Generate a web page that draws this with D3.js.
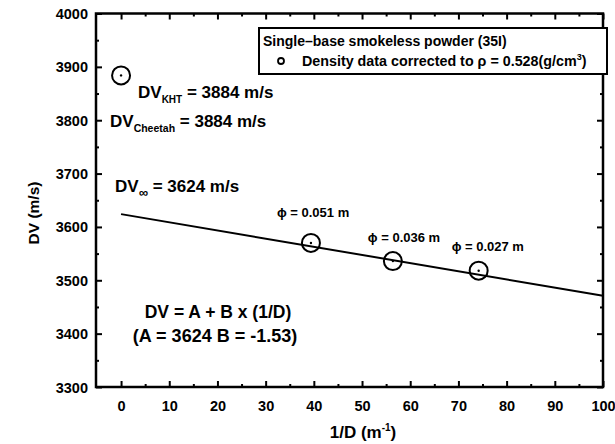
<!DOCTYPE html>
<html lang="en">
<head>
  <meta charset="UTF-8">
  <title></title>
  <script src="https://d3js.org/d3.v7.min.js"></script>
  <style>
    body { margin: 0; background: #fff; }
    text { font-family: "Liberation Sans", Arial, sans-serif; font-weight: bold; fill: #000; }
  </style>
</head>
<body>
  <svg width="615" height="444"></svg>
  <script>
    // measured points (1/D, DV)
    const invD = [0, 39.4, 56.4, 74.2];
    const dv = [3884, 3570, 3536, 3518];
    // fit DV = A + B*(1/D)
    const fitA = 3624, fitB = -1.53;
    const fitX = [0, 100];
    const xTicks = [0, 10, 20, 30, 40, 50, 60, 70, 80, 90, 100];
    const yTicks = [3300, 3400, 3500, 3600, 3700, 3800, 3900, 4000];
    const phiLabels = ["0.051", "0.036", "0.027"];

    const svg = d3.select("svg");
    const margin = {top: 13.5, right: 12, bottom: 57, left: 96};
    const width = 615, height = 444;
    const innerWidth = width - margin.left - margin.right;
    const innerHeight = height - margin.top - margin.bottom;

    // scales in page coordinates
    const x = d3.scaleLinear().domain([-5.2, 100]).range([margin.left, width - margin.right]);
    const y = d3.scaleLinear().domain([3300, 4000]).range([height - margin.bottom, margin.top]);

    const xMinor = d3.range(5, 100, 10);
    const yMinor = d3.range(3350, 4000, 100);
    const fmt = d3.format("d");
    const bottom = height - margin.bottom, right = width - margin.right;

    function styleAxis(sel, fontSize) {
      sel.select(".domain").remove();
      sel.attr("font-family", null).attr("font-size", fontSize);
      sel.selectAll(".tick line").attr("stroke", "#000").attr("stroke-width", 2);
      sel.selectAll("text").attr("fill", "#000");
    }
    // tick marks only, no labels
    function ticksOnly(sel) {
      styleAxis(sel, 10);
      sel.selectAll("text").remove();
    }

    // bottom + top axes, ticks pointing inward
    svg.append("g").attr("transform", `translate(0,${bottom})`)
      .call(d3.axisBottom(x).tickValues(xTicks).tickFormat(fmt).tickSize(-6).tickPadding(13))
      .call(s => styleAxis(s, 14.5))
      .call(s => s.selectAll("text").attr("dy", null).attr("y", 23.5));
    svg.append("g").attr("transform", `translate(0,${bottom})`)
      .call(d3.axisBottom(x).tickValues(xMinor).tickSize(-3))
      .call(ticksOnly);
    svg.append("g").attr("transform", `translate(0,${margin.top})`)
      .call(d3.axisTop(x).tickValues(xTicks).tickSize(-6))
      .call(ticksOnly);
    svg.append("g").attr("transform", `translate(0,${margin.top})`)
      .call(d3.axisTop(x).tickValues(xMinor).tickSize(-3))
      .call(ticksOnly);

    // left + right axes
    svg.append("g").attr("transform", `translate(${margin.left},0)`)
      .call(d3.axisLeft(y).tickValues(yTicks).tickFormat(fmt).tickSize(-6).tickPadding(8))
      .call(s => styleAxis(s, 14.5))
      .call(s => s.selectAll("text").attr("dy", null).attr("y", 5));
    svg.append("g").attr("transform", `translate(${margin.left},0)`)
      .call(d3.axisLeft(y).tickValues(yMinor).tickSize(-3))
      .call(ticksOnly);
    svg.append("g").attr("transform", `translate(${right},0)`)
      .call(d3.axisRight(y).tickValues(yTicks).tickSize(-6))
      .call(ticksOnly);
    svg.append("g").attr("transform", `translate(${right},0)`)
      .call(d3.axisRight(y).tickValues(yMinor).tickSize(-3))
      .call(ticksOnly);

    // frame
    svg.append("rect")
      .attr("x", margin.left).attr("y", margin.top)
      .attr("width", innerWidth).attr("height", innerHeight)
      .attr("fill", "none").attr("stroke", "#000").attr("stroke-width", 2.5);

    // axis titles
    const xt = svg.append("text")
      .attr("x", 363).attr("y", 438).attr("text-anchor", "middle").attr("font-size", 17);
    xt.append("tspan").text("1/D (m");
    xt.append("tspan").attr("font-size", 10).attr("dy", -7).text("-1");
    xt.append("tspan").attr("dy", 7).text(")");
    svg.append("text")
      .attr("transform", "translate(39,213) rotate(-90)")
      .attr("text-anchor", "middle").attr("font-size", 15.5).text("DV (m/s)");

    // fit line
    const line = d3.line().x(d => x(d)).y(d => y(fitA + fitB * d));
    svg.append("path").datum(fitX)
      .attr("fill", "none").attr("stroke", "#000").attr("stroke-width", 2).attr("d", line);

    // points
    const pts = invD.map((v, i) => ({x: v, y: dv[i]}));
    svg.selectAll(".pt").data(pts).join("circle")
      .attr("cx", d => x(d.x)).attr("cy", d => y(d.y)).attr("r", 9)
      .attr("fill", "none").attr("stroke", "#000").attr("stroke-width", 2);
    svg.selectAll(".dot").data(pts).join("circle")
      .attr("cx", d => x(d.x)).attr("cy", d => y(d.y)).attr("r", 1.2).attr("fill", "#000");

    // phi labels above the three measured points
    const phiPos = [[-34, -26], [-25, -19], [-27, -20]];
    pts.slice(1).forEach((p, i) => {
      svg.append("text")
        .attr("x", x(p.x) + phiPos[i][0]).attr("y", y(p.y) + phiPos[i][1])
        .attr("font-size", 13).text("\u03d5 = " + phiLabels[i] + " m");
    });

    // annotations
    function subText(xp, yp, sub, subSize, rest) {
      const t = svg.append("text").attr("x", xp).attr("y", yp).attr("font-size", 17);
      t.append("tspan").text("DV");
      t.append("tspan").attr("font-size", subSize).attr("dy", 5).text(sub);
      t.append("tspan").attr("dy", -5).text(rest);
    }
    subText(138, 98, "KHT", 10, " = 3884 m/s");
    subText(110, 127, "Cheetah", 10.5, " = 3884 m/s");
    subText(115, 192, "\u221e", 13, " = 3624 m/s");

    svg.append("text").attr("x", 218).attr("y", 318).attr("text-anchor", "middle")
      .attr("font-size", 17.5).text("DV = A + B x (1/D)");
    svg.append("text").attr("x", 215).attr("y", 342).attr("text-anchor", "middle")
      .attr("font-size", 18).text(`(A = ${fitA} B = ${fitB})`);

    // legend
    const lg = svg.append("g");
    lg.append("rect").attr("x", 259).attr("y", 28).attr("width", 348).attr("height", 46)
      .attr("fill", "#fff").attr("stroke", "#000").attr("stroke-width", 2);
    lg.append("text").attr("x", 263).attr("y", 46).attr("font-size", 14)
      .text("Single\u2013base smokeless powder (35I)");
    lg.append("circle").attr("cx", 281).attr("cy", 61).attr("r", 3)
      .attr("fill", "none").attr("stroke", "#000").attr("stroke-width", 1.8);
    const lt = lg.append("text").attr("x", 302).attr("y", 66).attr("font-size", 14.3);
    lt.append("tspan").text("Density data corrected to \u03c1 = 0.528(g/cm");
    lt.append("tspan").attr("font-size", 9).attr("dy", -6).text("3");
    lt.append("tspan").attr("dy", 6).text(")");
  </script>
</body>
</html>
